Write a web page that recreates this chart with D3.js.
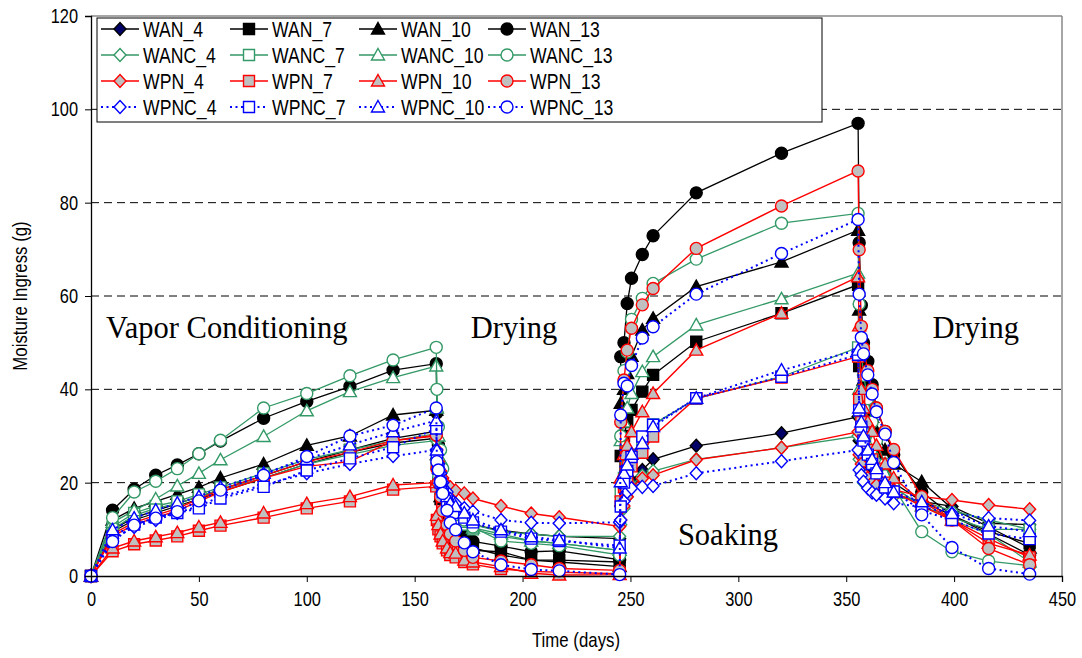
<!DOCTYPE html>
<html><head><meta charset="utf-8">
<script src="https://cdn.jsdelivr.net/npm/d3@7"></script>
<style>body{margin:0;background:#fff}svg{display:block}</style>
</head><body>
<svg id="c" width="1082" height="658"></svg>
<script>
// time points (days): vapor, drying, soaking, drying
const days = [0,10,20,30,40,50,60,80,100,120,140,160,
  160.3,161,162,163,165,166.5,169,173,177,190,204,217,245,
  245.5,247,248.5,250.5,255.5,260.5,280.5,320,355.5,
  356,357,358,360,362,364,368,372,385,399,416,435];

const WAN_4 = [0,9.5,12,13.5,15,16.5,18,21,24,26.5,28.5,29.5,
  25,22,20,18,16,14.5,13.5,12,11,9.8,9,8.5,8,
  15,17.5,19,20.4,22.7,25,27.9,30.6,34.1,
  29,26,24,22,20.5,19.5,18.5,17.5,16,14.9,11.3,11];
const WAN_7 = [0,10,12.5,14,15.5,17,18.5,21.5,24.5,27,29.5,31,
  24,20,16.5,13.5,11,9,7.5,6,5.5,5.2,3.4,3.4,3,
  25.7,30,33,35.6,39.5,43.1,50.2,56.3,62.4,
  45,38,34,31,28,26,23,20,16,13,9.5,7];
const WAN_10 = [0,12,14.5,16,17.5,19,21,24,28,30,34.5,35.5,
  26,21,17,14,11,9,8,6.5,6,4.5,3.4,3,2,
  37,40,43.4,47.1,52.7,55.2,62,67.3,74.1,
  57,46,42,38,34,31,27,24,20.2,14.5,10.5,6];
const WAN_13 = [0,14.1,18.6,21.6,23.8,26.2,28.9,33.8,37.4,40.6,44.1,45.5,
  35,28,22,18,14,11,9.5,8.6,7.4,6.4,5.2,5.4,3.5,
  47,50,58.4,63.8,68.9,72.9,82.1,90.6,97,
  71.4,58,50,46,41,36,31,26,18,13,9,4.5];
const WANC_4 = [0,10,13,14.5,15.5,17,18.5,21,24,26,28,29,
  25,22,20,18,16,14.5,13,12,11,9.5,9,8.5,8.5,
  11,14.5,17,19.5,21.5,22.5,25,27.5,30,
  25,22,20,19,18.5,18,17.5,17,16,14,12,10];
const WANC_7 = [0,10.5,13.5,15,16,17.5,19,22,25,27,29,30.5,
  25,22,19,17,15,13.5,12,11,10,8.5,7.5,7,5.5,
  18,21,23.5,26,29,32.5,38,42.7,49,
  38,34,30,27,25,23,21,19,15,12.5,10,10];
const WANC_10 = [0,11.5,14,16.5,19.3,22,24.9,29.9,35.4,39.5,42.5,45,
  36,30,25,21,17,15,13,11.5,10.3,9,7.5,7,5.5,
  29,33,36,39.1,43.8,47,53.8,59.4,64.9,
  40,35,32,29,27,25,22,19,15,12,9,3];
const WANC_13 = [0,12.5,18,20.3,23,26.2,29.1,36,39.1,42.9,46.3,49,
  40,32,27,23,19,16,14,12,10.5,7.5,7,6.5,4.5,
  30,44,48,55,59.5,62.7,67.9,75.6,77.7,
  58.3,48,43,38,33,29,24,19,9.5,5.2,3.2,2.2];
const WPN_4 = [0,9,11.5,13,14.5,16.5,18.5,21.5,24.5,26.5,29,30,
  27,24.5,22.5,21,19.5,19,18.3,17.7,16.6,15,13.4,12.6,10.6,
  12,15,17,19,20.9,21.6,24.9,27.5,30.9,
  26,24,22,21,20,19.5,19,18.5,17,16.3,15.2,14.3];
const WPN_7 = [0,5.3,6.8,7.6,8.5,9.7,10.8,12.5,14.5,16,18.5,19.2,
  12,10,8.5,7,5.5,4.5,4,3,2.5,1.5,1,0.8,0.5,
  16,19,21,23.5,26.4,29.9,38.1,42.5,47,
  38,33,29,27,25,23,20,18,15,12,8,4];
const WPN_10 = [0,6,7.5,8.4,9.3,10.5,11.5,13.5,15.5,17,19.5,20,
  13,11,9,7.5,6,5,4.9,3.4,3,2,0.6,0.2,0.3,
  21,26,28,30.9,35.2,39.1,48.4,56.3,64.1,
  53.6,40,36,33,31,28,24,21,16,12,7,4.5];
const WPN_13 = [0,8.5,11,12.5,14,16,18,21,23.5,24.5,29,30.2,
  23,20,17,14,11,9,7.5,5.5,4,3.2,2.4,1.6,1.2,
  33,42,48.4,53.1,58.1,61.6,70.2,79.3,86.8,
  69.9,53.5,48.8,44,40,36,31,27.1,17,12,5.9,2.4];
const WPNC_4 = [0,8,10.5,12,13.5,15,17,19.5,22,24,25.7,27,
  26,24,22,20,18,16.5,15.5,14.5,13.8,12,11.4,11.3,11.5,
  12,16,18,18.8,19.1,19.3,22,24.6,27,
  22.7,21.6,20.2,18.8,17.9,17.4,16.6,15.6,14.8,13.4,12.4,11.9];
const WPNC_7 = [0,8.5,11,12.5,13.5,14.5,16.6,19.1,22.6,25.2,27.6,31.6,
  26,23,20,18,16,14.5,13.5,12.5,11.5,9.5,8,7.5,6.5,
  14.9,20,22.5,25.5,29.9,32.4,38.1,42.7,47.4,
  35.5,32,29,26,24,22,19,18.1,14,12,9.1,7.9];
const WPNC_10 = [0,9.9,12.4,14.1,15.6,17,19,22,25,28.1,30.9,33.3,
  27,24,21,19,17,15.5,14.9,13.5,12,9.9,8.4,7.7,6,
  20.2,22,23.8,26.1,28.4,32,38.1,44.1,48.4,
  36,33,30,27,25,23,20,18,15.9,13.4,10.7,9.5];
const WPNC_13 = [0,7.4,10.9,12.4,13.8,16.1,18.4,21.6,25.6,30,32.3,36,
  24.5,22.7,20.2,17.7,14.1,11.4,9.9,7.1,5.2,2.4,1.4,1.1,0.3,
  34.5,41.3,40.7,45.1,51,53.4,60.4,69.1,76.4,
  60.4,51.1,47.6,43.1,39,35.2,30.4,24.3,13.1,6.1,1.6,0.4];

const seriesNames = ["WAN_4","WAN_7","WAN_10","WAN_13","WANC_4","WANC_7","WANC_10","WANC_13",
  "WPN_4","WPN_7","WPN_10","WPN_13","WPNC_4","WPNC_7","WPNC_10","WPNC_13"];
const seriesValues = [WAN_4,WAN_7,WAN_10,WAN_13,WANC_4,WANC_7,WANC_10,WANC_13,
  WPN_4,WPN_7,WPN_10,WPN_13,WPNC_4,WPNC_7,WPNC_10,WPNC_13];
const xTicks = [0,50,100,150,200,250,300,350,400,450];
const yTicks = [0,20,40,60,80,100,120];
const phaseLabels = [
  {text:"Vapor Conditioning", t:7, v:51},
  {text:"Drying", t:176, v:51},
  {text:"Soaking", t:272, v:6.6},
  {text:"Drying", t:390, v:51}
];

const groups = {
  WAN:  {stroke:"#000000", fill:"#000000", dash:null, w:1.3, mstroke:"#000000"},
  WANC: {stroke:"#339966", fill:"#ffffff", dash:null, w:1.3, mstroke:"#339966"},
  WPN:  {stroke:"#ff0000", fill:"#c0c0c0", dash:null, w:1.4, mstroke:"#ff0000"},
  WPNC: {stroke:"#0000ff", fill:"#ffffff", dash:"2,3.5", w:2, mstroke:"#0000ff"}
};
const shapes = {"4":"diamond","7":"square","10":"triangle","13":"circle"};
const SANS = "'Liberation Sans', Arial, sans-serif";
const NARROW = 0.82; // horizontal squeeze to mimic a narrow sans face

const svg = d3.select("#c");
const x = d3.scaleLinear().domain([0,450]).range([91,1062]);
const y = d3.scaleLinear().domain([0,120]).range([576,16]);

svg.append("g").selectAll("line").data([20,40,60,80,100]).join("line")
  .attr("x1",x(0)).attr("x2",x(450)).attr("y1",d=>y(d)).attr("y2",d=>y(d))
  .attr("stroke","#000").attr("stroke-width",1).attr("stroke-dasharray","8,5");

svg.append("line").attr("x1",x(0)).attr("x2",x(450)).attr("y1",y(120)).attr("y2",y(120))
  .attr("stroke","#888").attr("stroke-width",1.5);
svg.append("line").attr("x1",x(450)).attr("x2",x(450)).attr("y1",y(120)).attr("y2",y(0))
  .attr("stroke","#888").attr("stroke-width",1.5);

function symbolPath(shape){
  if(shape==="diamond") return "M0,-6.5L6,0L0,6.5L-6,0Z";
  if(shape==="square") return "M-5.5,-5.5H5.5V5.5H-5.5Z";
  if(shape==="triangle") return "M0,-6.5L6.5,5L-6.5,5Z";
  const p = d3.path(); p.arc(0,0,6,0,2*Math.PI); p.closePath(); return p.toString();
}
function styleOf(name){
  const [g,n] = name.split("_");
  const st = Object.assign({}, groups[g]);
  st.shape = shapes[n];
  if(name==="WAN_4") st.fill = "#000066";
  return st;
}

const line = d3.line().x((d,i)=>x(days[i])).y(d=>y(d));
const plot = svg.append("g");
seriesNames.forEach((name,si)=>{
  const st = styleOf(name);
  const vals = seriesValues[si];
  plot.append("path").datum(vals).attr("d",line)
    .attr("fill","none").attr("stroke",st.stroke).attr("stroke-width",st.w)
    .attr("stroke-dasharray",st.dash);
  plot.append("g").selectAll("path").data(vals).join("path")
    .attr("transform",(d,i)=>`translate(${x(days[i])},${y(d)})`)
    .attr("d",symbolPath(st.shape))
    .attr("fill",st.fill).attr("stroke",st.mstroke).attr("stroke-width",1.4);
});

const xAxis = d3.axisBottom(x).tickValues(xTicks).tickSize(6).tickPadding(10);
const gx = svg.append("g").attr("transform",`translate(0,${y(0)})`).call(xAxis);
gx.select(".domain").attr("stroke","#000").attr("stroke-width",1.3);
gx.selectAll("text").attr("font-family",SANS).attr("font-size",20).attr("fill","#000")
  .attr("transform",`scale(${NARROW},1)`);
const yAxis = d3.axisLeft(y).tickValues(yTicks).tickSize(6).tickPadding(7);
const gy = svg.append("g").attr("transform",`translate(${x(0)},0)`).call(yAxis);
gy.select(".domain").attr("stroke","#000").attr("stroke-width",1.3);
gy.selectAll("text").attr("font-family",SANS).attr("font-size",20).attr("fill","#000")
  .attr("x",-13/NARROW).attr("transform",`scale(${NARROW},1)`);

svg.append("text").attr("transform",`translate(576,647) scale(${NARROW},1)`).attr("text-anchor","middle")
  .attr("font-family",SANS).attr("font-size",20.5).text("Time (days)");
svg.append("text").attr("transform",`translate(27,296) rotate(-90) scale(${NARROW},1)`).attr("text-anchor","middle")
  .attr("font-family",SANS).attr("font-size",20.5).text("Moisture Ingress (g)");

svg.append("g").selectAll("text").data(phaseLabels).join("text")
  .attr("x",d=>x(d.t)).attr("y",d=>y(d.v))
  .attr("font-family","'Liberation Serif', 'Times New Roman', serif").attr("font-size",30.5)
  .text(d=>d.text);

const lg = svg.append("g");
lg.append("rect").attr("x",97).attr("y",18).attr("width",725).attr("height",104)
  .attr("fill","#fff").attr("stroke","#000").attr("stroke-width",1);
seriesNames.forEach((name,i)=>{
  const st = styleOf(name);
  const row = Math.floor(i/4), col = i%4;
  const x0 = 101 + col*129, yy = 29 + row*26;
  const g = lg.append("g");
  g.append("line").attr("x1",x0).attr("x2",x0+38).attr("y1",yy).attr("y2",yy)
    .attr("stroke",st.stroke).attr("stroke-width",st.w).attr("stroke-dasharray",st.dash);
  g.append("path").attr("transform",`translate(${x0+19},${yy})`).attr("d",symbolPath(st.shape))
    .attr("fill",st.fill).attr("stroke",st.mstroke).attr("stroke-width",1.4);
  g.append("text").attr("transform",`translate(${x0+42},${yy}) scale(${NARROW},1)`).attr("dy","0.36em")
    .attr("font-family",SANS).attr("font-size",21.5).text(name);
});
</script>
</body></html>
